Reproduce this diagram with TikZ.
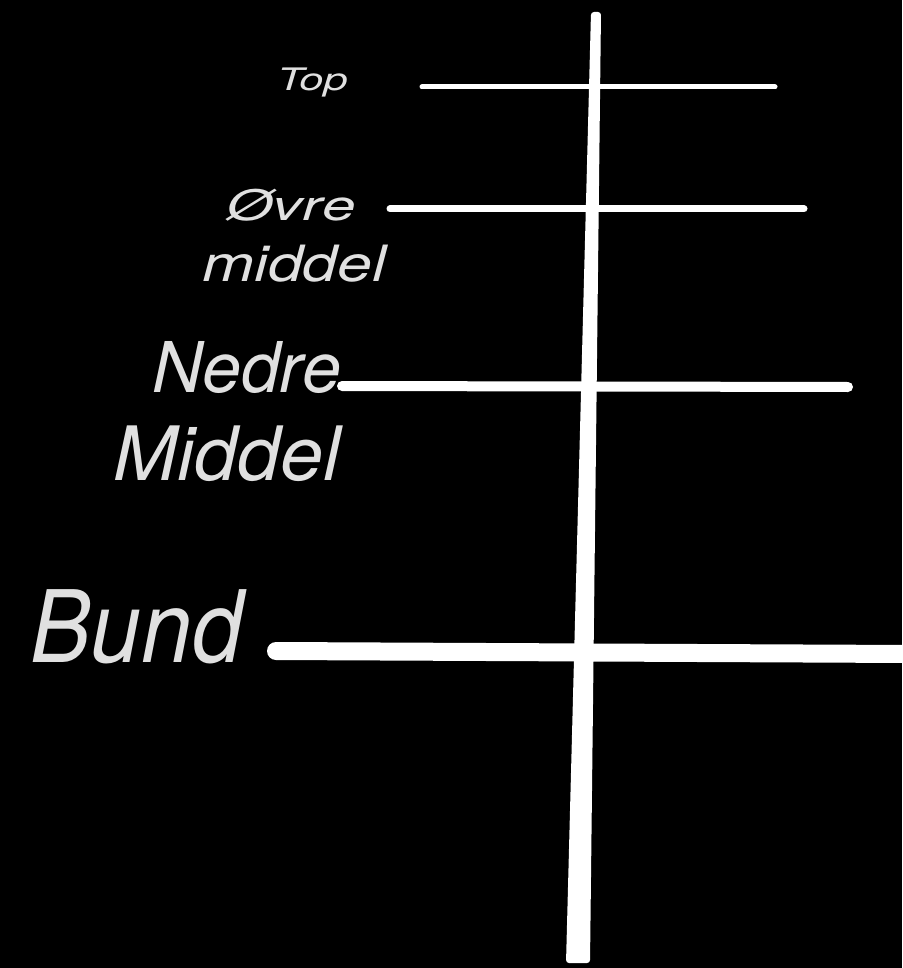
\documentclass[tikz,border=0pt]{standalone}
\usepackage{fontspec}
\setmainfont{TeX Gyre Heros}
\begin{document}
\begin{tikzpicture}[x=1pt,y=-1pt,
  lbl/.style={anchor=base west,inner sep=0pt,text=white!88!black,font=\itshape},
  bar/.style={draw=white,line cap=round}]
\fill[black] (0,0) rectangle (902,968);
\useasboundingbox (0,0) rectangle (902,968);
% main vertical stem (tapered)
\fill[white,rounded corners=3pt] (591,12) -- (601,12) -- (590,963) -- (566,963) -- cycle;
% labels
\node[lbl,font=\itshape\fontsize{31}{31}\selectfont] (top) at (277,91) {\scalebox{1.40}[1]{Top}};
\node[lbl,font=\itshape\fontsize{42}{42}\selectfont] (ovre) at (226,221) {\scalebox{1.43}[1]{Øvre}};
\node[lbl,font=\itshape\fontsize{50}{50}\selectfont] (middel) at (202,281) {\scalebox{1.25}[1]{middel}};
\node[lbl,font=\itshape\fontsize{70}{70}\selectfont] (nedre) at (152,392) {\scalebox{1.0}[1]{Nedre}};
\node[lbl,font=\itshape\fontsize{75}{75}\selectfont] (Middel) at (113,480) {\scalebox{1.03}[1]{Middel}};
\node[lbl,font=\itshape\fontsize{100}{100}\selectfont] (bund) at (30,662) {\scalebox{0.91}[1]{Bund}};
% horizontal bars
\coordinate (t1) at (422,87);  \coordinate (t2) at (775,87);
\coordinate (o1) at (390,209); \coordinate (o2) at (804,209);
\coordinate (n1) at (342,386); \coordinate (n2) at (848,387);
\coordinate (b1) at (276,651); \coordinate (b2) at (910,654);
\draw[bar,line width=5pt] (t1) -- (t2);
\draw[bar,line width=7pt] (o1) -- (o2);
\draw[bar,line width=10pt] (n1) -- (n2);
\draw[bar,line width=18pt] (b1) -- (b2);
\end{tikzpicture}
\end{document}
